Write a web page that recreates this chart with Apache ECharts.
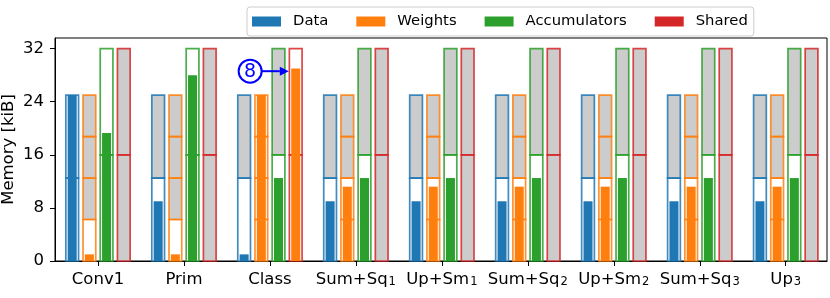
<!DOCTYPE html>
<html>
<head>
<meta charset="utf-8">
<script src="https://cdn.jsdelivr.net/npm/echarts@6/dist/echarts.min.js"></script>
<style>html,body{margin:0;padding:0;background:#fff}#c{width:830px;height:298px}</style>
</head>
<body>
<div id="c"></div>
<script>
// ---- data ----
const categories = ['Conv1', 'Prim', 'Class', 'Sum+Sq1', 'Up+Sm1', 'Sum+Sq2', 'Up+Sm2', 'Sum+Sq3', 'Up3'];
const seriesNames = ['Data', 'Weights', 'Accumulators', 'Shared'];
const dataUse = [25, 9, 1, 9, 9, 9, 9, 9, 9];
const weightsUse = [1, 1, 25, 11.2, 11.2, 11.2, 11.2, 11.2, 11.2];
const accUse = [19.3, 28, 12.5, 12.5, 12.5, 12.5, 12.5, 12.5, 12.5];
const sharedUse = [0, 0, 29, 0, 0, 0, 0, 0, 0];
const sharedOwner = ['', '', 'Weights', '', '', '', '', '', ''];
const bankSizes = [12.5, 6.25, 16, 16];
const bankCounts = [2, 4, 2, 2];
const yTicks = [0, 8, 16, 24, 32];
const annotation = { text: '8', from: [1.77, 28.6], to: [2.22, 28.6] };

// ---- style ----
const colors = ['#1f77b4', '#ff7f0e', '#2ca02c', '#d62728'];
const edgeColors = ['rgba(31,119,180,0.85)', 'rgba(255,127,14,0.85)', 'rgba(44,160,44,0.85)', 'rgba(214,39,40,0.85)'];
const offsets = [-0.3, -0.1, 0.1, 0.3];
const containerW = 0.148;
const fillW = 0.105;
const FONT = 'DejaVu Sans';

const usages = [dataUse, weightsUse, accUse, sharedUse];

function rectFrom(api, x0, x1, y0, y1) {
  const a = api.coord([x0, y1]);
  const b = api.coord([x1, y0]);
  return { x: a[0], y: a[1], width: b[0] - a[0], height: b[1] - a[1] };
}

function makeSeries(j) {
  return {
    type: 'custom',
    name: seriesNames[j],
    itemStyle: { color: colors[j] },
    data: categories.map((c, i) => [i, usages[j][i]]),
    encode: { x: 0, y: 1 },
    z: 2,
    renderItem: function (params, api) {
      const i = api.value(0);
      const use = api.value(1);
      const xc = i + offsets[j];
      const nb = bankCounts[j], bs = bankSizes[j];
      const active = Math.ceil(use / bs - 1e-9);
      const children = [];
      for (let b = 0; b < nb; b++) {
        children.push({
          type: 'rect',
          shape: rectFrom(api, xc - containerW / 2, xc + containerW / 2, b * bs, (b + 1) * bs),
          style: { fill: b < active ? '#ffffff' : '#cccccc', stroke: null }
        });
      }
      for (let b = 0; b < nb; b++) {
        children.push({
          type: 'rect',
          shape: rectFrom(api, xc - containerW / 2, xc + containerW / 2, b * bs, (b + 1) * bs),
          style: { fill: null, stroke: edgeColors[j], lineWidth: 1.7 }
        });
      }
      if (use > 0) {
        let col = colors[j];
        if (j === 3 && sharedOwner[i]) col = colors[seriesNames.indexOf(sharedOwner[i])];
        children.push({
          type: 'rect',
          shape: rectFrom(api, xc - fillW / 2, xc + fillW / 2, 0, use),
          style: { fill: col, stroke: null }
        });
      }
      return { type: 'group', children: children };
    }
  };
}

const series = [0, 1, 2, 3].map(makeSeries);
series.push({
  type: 'custom',
  name: 'annotation',
  data: [[annotation.from[0], annotation.from[1], annotation.to[0], annotation.to[1]]],
  encode: { x: 0, y: 1 },
  z: 5,
  silent: true,
  renderItem: function (params, api) {
    const p = api.coord([api.value(0), api.value(1)]);
    const q = api.coord([api.value(2), api.value(3)]);
    const r = 11.5;
    const head = 9, hw = 4.5;
    return {
      type: 'group',
      children: [
        { type: 'circle', shape: { cx: p[0], cy: p[1], r: r }, style: { fill: '#fff', stroke: '#0000ff', lineWidth: 2 } },
        { type: 'text', style: { text: annotation.text, x: p[0], y: p[1] + 1, align: 'center', verticalAlign: 'middle', fill: '#0000ff', font: '19px "DejaVu Sans"' } },
        { type: 'line', shape: { x1: p[0] + r, y1: p[1], x2: q[0] - head, y2: q[1] }, style: { stroke: '#0000ff', lineWidth: 2 } },
        { type: 'polygon', shape: { points: [[q[0], q[1]], [q[0] - head, q[1] - hw], [q[0] - head, q[1] + hw]] }, style: { fill: '#0000ff' } }
      ]
    };
  }
});

function xLabel(v) {
  const s = categories[Math.round(v)] || '';
  const m = s.match(/^(.*?)(\d)$/);
  if (m && s !== 'Conv1') return '{n|' + m[1] + '}{s|' + m[2] + '}';
  return '{n|' + s + '}';
}

const chart = echarts.init(document.getElementById('c'), null, { renderer: 'canvas' });
chart.setOption({
  animation: false,
  backgroundColor: '#fff',
  textStyle: { fontFamily: FONT },
  grid: { left: 55, right: 3, top: 38, bottom: 37, outerBoundsMode: 'none', containLabel: false, show: true, borderColor: '#000', borderWidth: 1, backgroundColor: 'transparent' },
  legend: {
    data: seriesNames,
    left: 247, top: 7,
    icon: 'rect',
    itemWidth: 29, itemHeight: 10,
    itemGap: 28,
    padding: [7, 6, 7, 5],
    backgroundColor: '#fff',
    borderColor: '#cccccc', borderWidth: 1, borderRadius: 3,
    textStyle: { fontFamily: FONT, fontSize: 14.8, color: '#000', padding: [0, 0, 0, 7] },
    selectedMode: false
  },
  xAxis: {
    type: 'value', min: -0.5, max: 8.48,
    axisLine: { show: true, onZero: false, lineStyle: { color: '#000', width: 1 } },
    axisTick: { show: true, length: 5, customValues: categories.map((c, i) => i), lineStyle: { color: '#000' } },
    axisLabel: {
      customValues: categories.map((c, i) => i), formatter: xLabel, margin: 7, color: '#000',
      rich: {
        n: { fontFamily: FONT, fontSize: 16.5, color: '#000', verticalAlign: 'bottom', lineHeight: 20 },
        s: { fontFamily: FONT, fontSize: 11.5, color: '#000', verticalAlign: 'bottom', lineHeight: 13, padding: [0, 0, 0, 1] }
      }
    },
    splitLine: { show: false }
  },
  yAxis: {
    type: 'value', min: 0, max: 33.6,
    name: 'Memory [kiB]', nameLocation: 'middle', nameRotate: 90, nameGap: 38, nameMoveOverlap: false,
    nameTextStyle: { fontFamily: FONT, fontSize: 16.5, color: '#000' },
    axisLine: { show: true, onZero: false, lineStyle: { color: '#000', width: 1 } },
    axisTick: { show: true, length: 5, customValues: yTicks, lineStyle: { color: '#000' } },
    axisLabel: { customValues: yTicks, margin: 11, fontFamily: FONT, fontSize: 16.5, color: '#000' },
    splitLine: { show: false }
  },
  series: series
});
</script>
</body>
</html>
